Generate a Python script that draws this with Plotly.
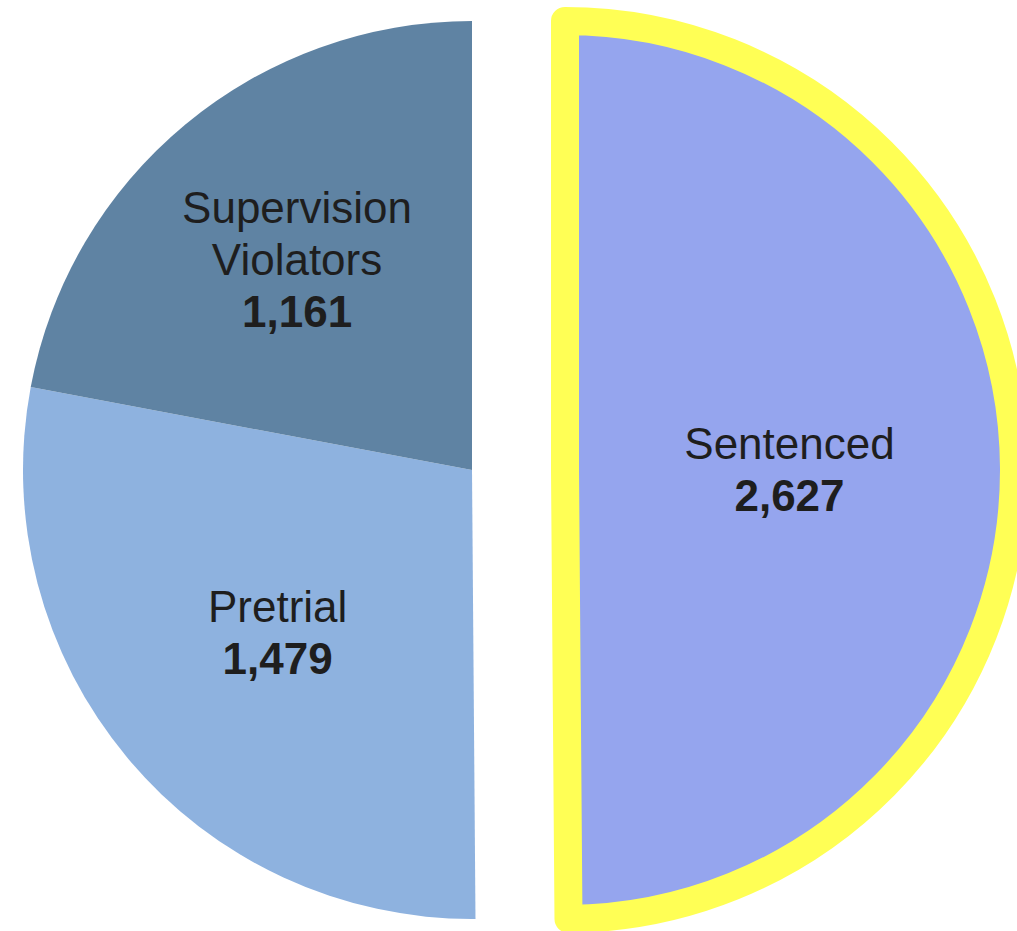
import plotly.graph_objects as go

labels = ["Sentenced", "Pretrial", "Supervision<br>Violators"]
values = [2627, 1479, 1161]
colors = ["#95A5EE", "#8EB2DF", "#5F83A3"]
border_color = "#FFFF55"

W, H = 1017, 931
R = 449
CY = 470
CX_LEFT = 472
CX_PULL = 565

tmpl = "<span style='font-size:44px'>%{label}<br><b>%{value:,}</b></span>"


def dom(cx):
    return dict(x=[(cx - R) / W, (cx + R) / W],
                y=[(H - CY - R) / H, (H - CY + R) / H])


transparent = "rgba(0,0,0,0)"
font = dict(family="Liberation Sans, Arial, sans-serif", size=40, color="#1e1e1e")

fig = go.Figure()
# remaining slices (Sentenced hidden)
fig.add_trace(go.Pie(
    labels=labels, values=values, sort=False, direction="clockwise", rotation=0,
    marker=dict(colors=[transparent, colors[1], colors[2]], line=dict(width=0)),
    texttemplate=["", tmpl, tmpl], textposition="inside",
    insidetextorientation="horizontal", textfont=font,
    domain=dom(CX_LEFT), showlegend=False, hoverinfo="label+value",
))
# exploded slice: Sentenced
fig.add_trace(go.Pie(
    labels=labels, values=values, sort=False, direction="clockwise", rotation=0,
    marker=dict(colors=[colors[0], transparent, transparent],
                line=dict(width=[28, 0, 0], color=[border_color, transparent, transparent])),
    texttemplate=[tmpl, "", ""], textposition="inside",
    insidetextorientation="horizontal", textfont=font,
    domain=dom(CX_PULL), showlegend=False, hoverinfo="label+value",
))

fig.update_layout(
    width=W, height=H, margin=dict(l=0, r=0, t=0, b=0),
    paper_bgcolor="white", plot_bgcolor="white", showlegend=False,
)

post = (
    "document.body.style.margin='0';"
    "document.body.style.overflow='hidden';"
    "document.querySelectorAll('.slice path').forEach(function(p){p.style.strokeLinejoin='round';});"
)
fig.write_html("out.html", post_script=post, config={"displayModeBar": False})
